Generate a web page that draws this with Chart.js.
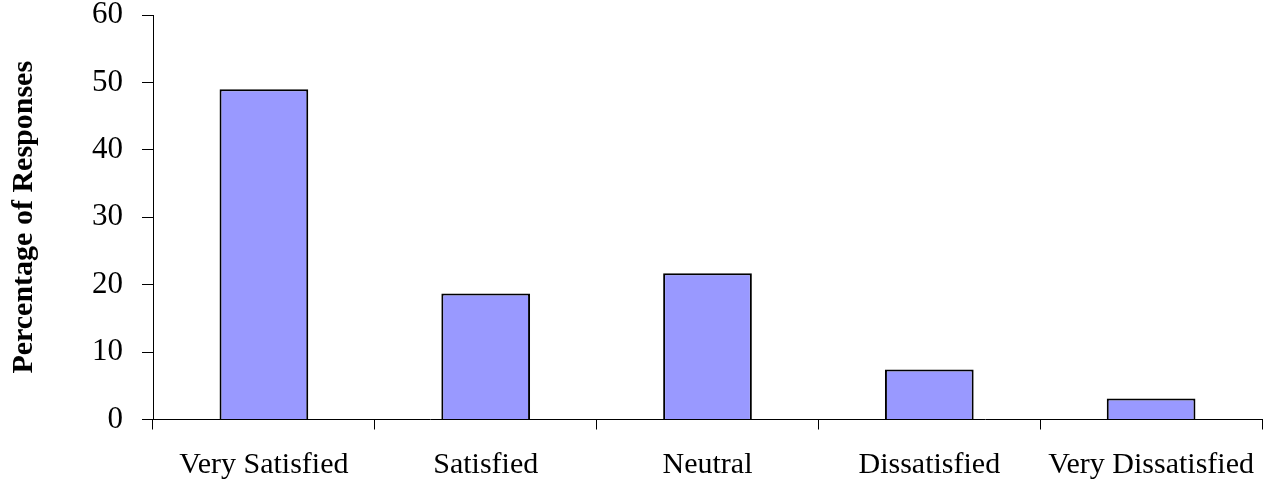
<!DOCTYPE html>
<html>
<head>
<meta charset="utf-8">
<script src="https://cdn.jsdelivr.net/npm/chart.js@4/dist/chart.umd.min.js"></script>
<style>
  html, body { margin: 0; padding: 0; background: #ffffff; }
  #wrap { width: 1265px; height: 479px; }
</style>
</head>
<body>
<div id="wrap"><canvas id="c" width="1265" height="479"></canvas></div>
<script>
// Satisfaction survey results
const categories = ['Very Satisfied', 'Satisfied', 'Neutral', 'Dissatisfied', 'Very Dissatisfied'];
const responsePercent = [49.0, 18.7, 21.7, 7.4, 3.1];
const yTicks = [0, 10, 20, 30, 40, 50, 60];

const serif = "'Liberation Serif', 'Times New Roman', serif";

new Chart(document.getElementById('c'), {
  type: 'bar',
  data: {
    labels: categories,
    datasets: [{
      data: responsePercent,
      backgroundColor: '#9999ff',
      borderColor: '#000000',
      borderWidth: 2,
      categoryPercentage: 0.4,
      barPercentage: 1.0
    }]
  },
  options: {
    responsive: false,
    animation: false,
    layout: { padding: { top: 15, right: 3, left: 0, bottom: 0 } },
    plugins: { legend: { display: false }, tooltip: { enabled: false } },
    scales: {
      x: {
        grid: {
          offset: true,
          drawOnChartArea: false,
          drawTicks: true,
          tickLength: 10,
          color: '#000000',
          lineWidth: 1
        },
        border: { color: '#000000', width: 1 },
        ticks: {
          color: '#000000',
          font: { family: serif, size: 30, lineHeight: 1.2 },
          padding: 18,
          maxRotation: 0,
          autoSkip: false
        },
        afterFit: (s) => { s.height = 59.5; s.paddingLeft = 0; s.paddingRight = 0; }
      },
      y: {
        min: 0,
        max: 60,
        afterBuildTicks: (s) => { s.ticks = yTicks.map(v => ({ value: v })); },
        grid: {
          drawOnChartArea: false,
          drawTicks: true,
          tickLength: 11,
          color: '#000000',
          lineWidth: 1
        },
        border: { color: '#000000', width: 1 },
        ticks: {
          color: '#000000',
          font: { family: serif, size: 31, lineHeight: 0.97 },
          padding: 19
        },
        title: {
          display: true,
          text: 'Percentage of Responses',
          color: '#000000',
          font: { family: serif, size: 30, weight: 'bold', lineHeight: 1.2 },
          padding: { top: 6, bottom: 0 }
        },
        afterFit: (s) => { s.width = 153; s.paddingTop = 0; s.paddingBottom = 0; }
      }
    }
  }
});
</script>
</body>
</html>
